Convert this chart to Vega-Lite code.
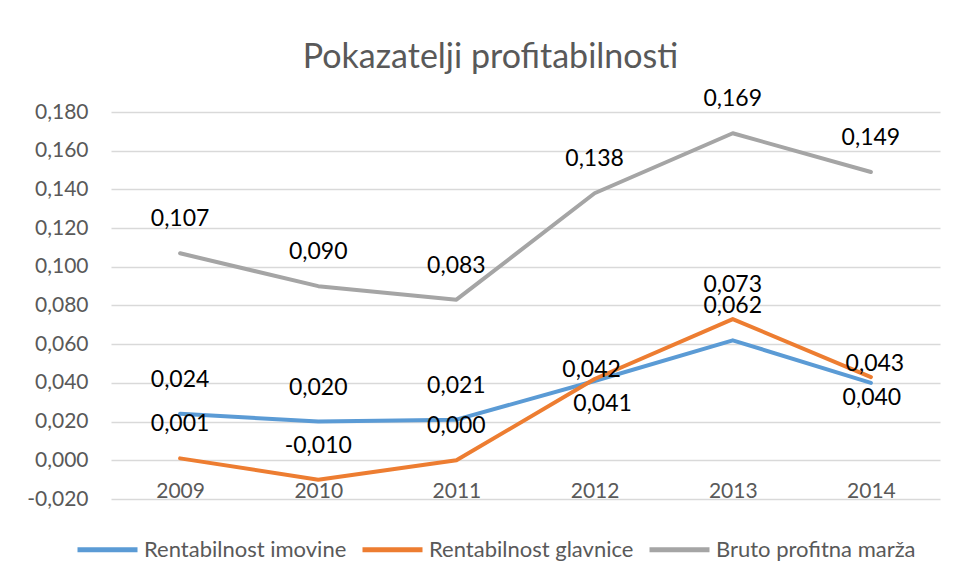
{
  "$schema": "https://vega.github.io/schema/vega-lite/v6.json",
  "width": 829,
  "height": 387,
  "autosize": "none",
  "padding": {"left": 111, "top": 112, "right": 17, "bottom": 82},
  "background": "white",
  "config": {
    "font": "Lato",
    "locale": {"number": {"decimal": ",", "thousands": ".", "grouping": [3], "currency": ["", ""], "minus": "-"}},
    "view": {"stroke": null},
    "axis": {"labelFont": "Lato", "labelColor": "#595959", "labelFontSize": 21, "domain": false, "ticks": false, "title": null}
  },
  "title": {
    "text": "Pokazatelji profitabilnosti",
    "fontSize": 34,
    "font": "Lato",
    "fontWeight": "normal",
    "color": "#595959",
    "frame": "group",
    "anchor": "middle",
    "dx": -35,
    "baseline": "alphabetic",
    "offset": -14
  },
  "data": {
    "values": [
      {"year": "2009", "series": "Rentabilnost imovine", "value": 0.024},
      {"year": "2010", "series": "Rentabilnost imovine", "value": 0.020},
      {"year": "2011", "series": "Rentabilnost imovine", "value": 0.021},
      {"year": "2012", "series": "Rentabilnost imovine", "value": 0.041},
      {"year": "2013", "series": "Rentabilnost imovine", "value": 0.062},
      {"year": "2014", "series": "Rentabilnost imovine", "value": 0.040},
      {"year": "2009", "series": "Rentabilnost glavnice", "value": 0.001},
      {"year": "2010", "series": "Rentabilnost glavnice", "value": -0.010},
      {"year": "2011", "series": "Rentabilnost glavnice", "value": 0.000},
      {"year": "2012", "series": "Rentabilnost glavnice", "value": 0.042},
      {"year": "2013", "series": "Rentabilnost glavnice", "value": 0.073},
      {"year": "2014", "series": "Rentabilnost glavnice", "value": 0.043},
      {"year": "2009", "series": "Bruto profitna marža", "value": 0.107},
      {"year": "2010", "series": "Bruto profitna marža", "value": 0.090},
      {"year": "2011", "series": "Bruto profitna marža", "value": 0.083},
      {"year": "2012", "series": "Bruto profitna marža", "value": 0.138},
      {"year": "2013", "series": "Bruto profitna marža", "value": 0.169},
      {"year": "2014", "series": "Bruto profitna marža", "value": 0.149}
    ]
  },
  "encoding": {
    "x": {
      "field": "year",
      "type": "ordinal",
      "scale": {"type": "point", "padding": 0.5},
      "axis": {"labelAngle": 0, "grid": false, "labelBaseline": "middle", "labelPadding": -8}
    },
    "y": {
      "field": "value",
      "type": "quantitative",
      "scale": {"domain": [-0.02, 0.18], "nice": false, "zero": false},
      "axis": {
        "values": [-0.02, 0, 0.02, 0.04, 0.06, 0.08, 0.1, 0.12, 0.14, 0.16, 0.18],
        "format": ".3f",
        "grid": true,
        "gridColor": "#d9d9d9",
        "gridWidth": 1.3,
        "labelPadding": 23
      }
    }
  },
  "layer": [
    {
      "mark": {"type": "line", "strokeWidth": 4, "strokeCap": "round", "strokeJoin": "round"},
      "encoding": {
        "color": {
          "field": "series",
          "type": "nominal",
          "sort": null,
          "scale": {
            "domain": ["Rentabilnost imovine", "Rentabilnost glavnice", "Bruto profitna marža"],
            "range": ["#5B9BD5", "#ED7D31", "#A5A5A5"]
          },
          "legend": {
            "title": null,
            "orient": "none",
            "legendX": -36,
            "legendY": 405,
            "direction": "horizontal",
            "symbolType": "stroke",
            "symbolSize": 3600,
            "symbolStrokeWidth": 5,
            "labelFont": "Lato",
            "labelFontSize": 22,
            "labelColor": "#595959",
            "labelOffset": 4,
            "labelLimit": 400,
            "columnPadding": 5
          }
        }
      }
    },
    {
      "transform": [{"filter": "!((datum.year == '2012' || datum.year == '2014') && datum.series != 'Bruto profitna marža')"}],
      "mark": {"type": "text", "fontSize": 23, "font": "Lato", "color": "#000000", "baseline": "middle", "dy": -34},
      "encoding": {"text": {"field": "value", "format": ".3f"}}
    },
    {
      "transform": [{"filter": "datum.year == '2012' && datum.series == 'Rentabilnost glavnice'"}],
      "mark": {"type": "text", "fontSize": 23, "font": "Lato", "color": "#000000", "baseline": "middle", "dy": -9, "dx": -3},
      "encoding": {"text": {"field": "value", "format": ".3f"}}
    },
    {
      "transform": [{"filter": "datum.year == '2012' && datum.series == 'Rentabilnost imovine'"}],
      "mark": {"type": "text", "fontSize": 23, "font": "Lato", "color": "#000000", "baseline": "middle", "dy": 23, "dx": 8},
      "encoding": {"text": {"field": "value", "format": ".3f"}}
    },
    {
      "transform": [{"filter": "datum.year == '2014' && datum.series == 'Rentabilnost glavnice'"}],
      "mark": {"type": "text", "fontSize": 23, "font": "Lato", "color": "#000000", "baseline": "middle", "dy": -13, "dx": 4},
      "encoding": {"text": {"field": "value", "format": ".3f"}}
    },
    {
      "transform": [{"filter": "datum.year == '2014' && datum.series == 'Rentabilnost imovine'"}],
      "mark": {"type": "text", "fontSize": 23, "font": "Lato", "color": "#000000", "baseline": "middle", "dy": 15, "dx": 1},
      "encoding": {"text": {"field": "value", "format": ".3f"}}
    }
  ]
}
